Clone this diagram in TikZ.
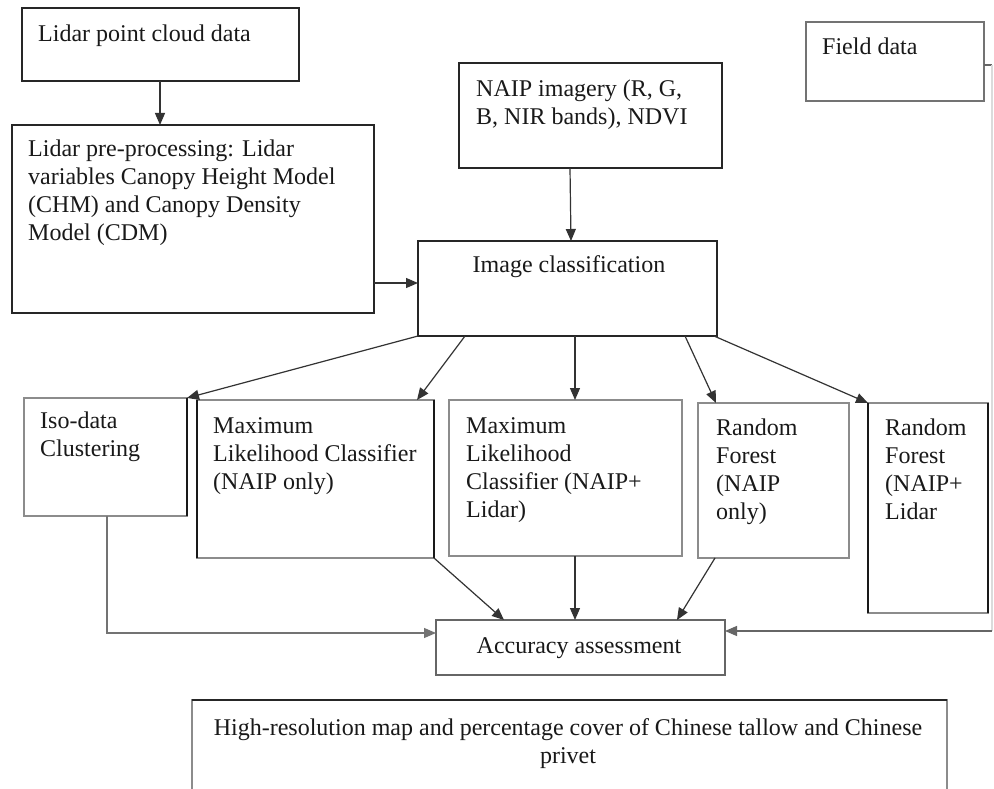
\documentclass[tikz,border=0pt]{standalone}
\usepackage{fontspec}
\setmainfont{Liberation Serif}
\usetikzlibrary{arrows.meta,calc}
\tikzset{
 frame/.style={inner sep=0pt, outer sep=0pt, anchor=north west},
 dk/.style={draw=black!85, line width=1.8pt},
 lt/.style={draw=black!45, line width=1.4pt},
 heavy/.style={draw=black!90, line width=2.6pt},
 lbl/.style={inner sep=0pt, anchor=north west, align=left, font=\fontsize{24}{28}\selectfont, text=black!90},
 conn/.style={draw=black!80, line width=1.2pt, -{Triangle[length=12pt,width=10pt]}},
 plain/.style={draw=black!60, line width=1.2pt},
 faint/.style={draw=black!14, line width=1.2pt},
}
\begin{document}
\begin{tikzpicture}[x=1pt,y=-1pt]
\useasboundingbox (0,0) rectangle (994,789);
\clip (0,0) rectangle (994,789);
\fill[white] (0,0) rectangle (994,789);

% boxes
\node[frame, dk, minimum width=277pt, minimum height=73pt] (lpc) at (22,8) {};
\node[lbl] (lpct) at (38,25) {Lidar point cloud data};

\node[frame, dk, minimum width=362pt, minimum height=188pt] (pre) at (12,125) {};
\node[lbl] (pret) at (28,140) {Lidar pre-processing: Lidar\\variables Canopy Height Model\\(CHM) and Canopy Density\\Model (CDM)};

\node[frame, dk, minimum width=263pt, minimum height=105pt] (naip) at (459,63) {};
\node[lbl] (naipt) at (476,80) {NAIP imagery (R, G,\\B, NIR bands), NDVI};

\node[frame, lt, draw=black!55, line width=1.8pt, minimum width=178pt, minimum height=79pt] (field) at (806,22) {};
\node[lbl] (fieldt) at (822,38) {Field data};

\node[frame, dk, minimum width=299pt, minimum height=95pt] (imgc) at (418,241) {};
\node[lbl, anchor=north, align=center] (imgct) at (569,255) {Image classification};

\node[frame, lt, minimum width=163pt, minimum height=118pt] (iso) at (24,398) {};
\draw[heavy] (iso.north east) -- (iso.south east);
\node[lbl] (isot) at (40,412) {Iso-data\\Clustering};

\node[frame, lt, minimum width=237pt, minimum height=158pt] (mlc1) at (197,400) {};
\draw[heavy] (mlc1.north west) -- (mlc1.south west);
\draw[heavy] (mlc1.north east) -- (mlc1.south east);
\node[lbl] (mlc1t) at (213,417) {Maximum\\Likelihood Classifier\\(NAIP only)};

\node[frame, lt, minimum width=233pt, minimum height=156pt] (mlc2) at (449,400) {};
\node[lbl] (mlc2t) at (466,417) {Maximum\\Likelihood\\Classifier (NAIP+\\Lidar)};

\node[frame, lt, minimum width=151pt, minimum height=155pt] (rf1) at (698,403) {};
\node[lbl] (rf1t) at (716,419) {Random\\Forest\\(NAIP\\only)};

\node[frame, lt, minimum width=120pt, minimum height=210pt] (rf2) at (868,403) {};
\draw[heavy] (rf2.north west) -- (rf2.south west);
\draw[heavy] (rf2.north east) -- (rf2.south east);
\node[lbl] (rf2t) at (885,419) {Random\\Forest\\(NAIP+\\Lidar};

\node[frame, lt, draw=black!60, line width=1.6pt, minimum width=289pt, minimum height=55pt] (acc) at (436,620) {};
\node[lbl, anchor=north, align=center] (acct) at (579,637) {Accuracy assessment};

\node[frame, lt, minimum width=755pt, minimum height=110pt] (hires) at (192,700) {};
\draw[dk] (hires.north west) -- (hires.north east);
\node[lbl, anchor=north, align=center] (hirest) at (568,718) {High-resolution map and percentage cover of Chinese tallow and Chinese\\privet};

% connectors
\draw[conn] ($(lpc.south west)+(138,0)$) -- ($(pre.north west)+(148,0)$);
\draw[conn] ($(pre.south east)+(0,-30)$) -- ($(imgc.north west)+(0,42)$);
\draw[conn] ($(naip.south west)+(111,0)$) -- ($(imgc.north west)+(153,0)$);

\draw[conn] (imgc.south west) -- (iso.north east);
\draw[conn] ($(imgc.south west)+(47,0)$) -- ($(mlc1.north east)+(-17,0)$);
\draw[conn] ($(imgc.south west)+(157,0)$) -- ($(mlc2.north west)+(126,0)$);
\draw[conn] ($(imgc.south west)+(267,0)$) -- ($(rf1.north west)+(18,0)$);
\draw[conn] ($(imgc.south east)+(-3,0)$) -- (rf2.north west);

\draw[conn] (mlc1.south east) -- ($(acc.north west)+(68,0)$);
\draw[conn] ($(mlc2.south west)+(126,0)$) -- ($(acc.north west)+(139,0)$);
\draw[conn] ($(rf1.south west)+(17,0)$) -- ($(acc.north west)+(241,0)$);
\draw[conn, draw=black!55] ($(iso.south west)+(83,0)$) |- ($(acc.north west)+(0,13)$);

\coordinate (fr1) at (992,65);
\coordinate (fr2) at (992,631);
\draw[plain] ($(field.north east)+(0,43)$) -- (fr1);
\draw[faint] (fr1) -- (fr2);
\draw[conn, draw=black!60] (fr2) -- (acc.east |- fr2);
\end{tikzpicture}
\end{document}
